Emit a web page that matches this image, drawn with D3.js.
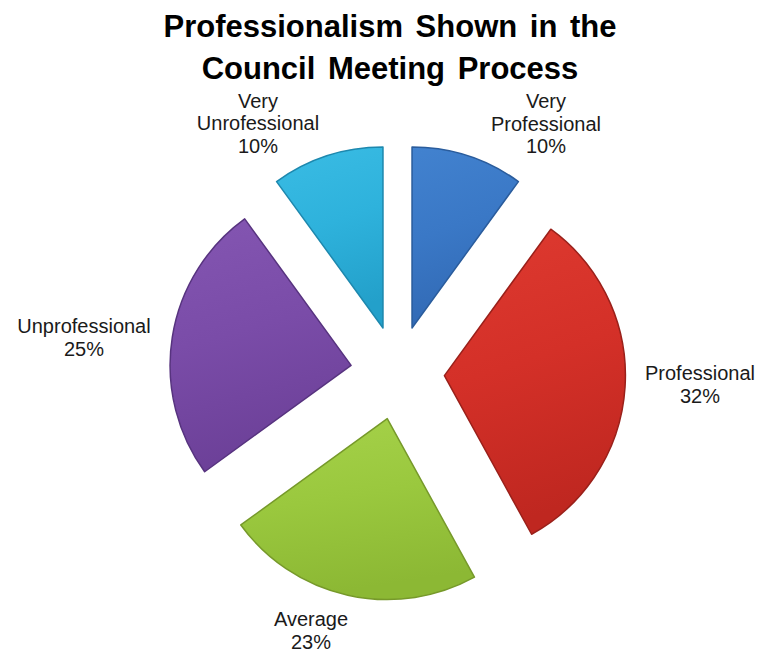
<!DOCTYPE html>
<html>
<head>
<meta charset="utf-8">
<script src="https://cdn.jsdelivr.net/npm/d3@7"></script>
<style>
  html, body { margin: 0; padding: 0; background: #ffffff; }
  svg { display: block; }
</style>
</head>
<body>
<svg id="chart" width="760" height="651"></svg>
<script>
// Survey responses, clockwise from 12 o'clock
const categories = ["Very Professional", "Professional", "Average", "Unprofessional", "Very Unprofessional"];
const labelLines = [["Very", "Professional"], ["Professional"], ["Average"], ["Unprofessional"], ["Very", "Unrofessional"]];
const values = [10, 32, 23, 25, 10];
const titleLines = ["Professionalism Shown in the", "Council Meeting Process"];

// Slice palettes: [light, base, dark, edge]
const palette = [
  ["#4282cf", "#3a78c6", "#3169b4", "#2a5c9c"],
  ["#de3a30", "#d43028", "#bf2720", "#9a201a"],
  ["#a6d24a", "#9ac83e", "#8cb834", "#76992a"],
  ["#8456b2", "#7a4ca8", "#6c4098", "#57337f"],
  ["#3abce4", "#2eb2dc", "#23a0ca", "#1d88ae"]
];

// Label anchor (centre x, first baseline) for each category
const labelPos = [
  [546, 108], [700, 380], [311, 626], [84, 333], [258, 107.5]
];

const svg = d3.select("#chart");
const cx = 397.5, cy = 372.7, R = 181, explode = 47;

// Title
svg.append("g").selectAll("text")
  .data(titleLines)
  .join("text")
  .attr("x", 390)
  .attr("y", (d, i) => 37 + i * 42)
  .attr("text-anchor", "middle")
  .attr("font-family", "Liberation Sans, Arial, sans-serif")
  .attr("font-weight", "bold")
  .attr("font-size", 31)
  .attr("word-spacing", 4)
  .attr("fill", "#000")
  .text(d => d);

const pie = d3.pie().sort(null).value(d => d).startAngle(0).endAngle(2 * Math.PI);
const arcs = pie(values);
const arc = d3.arc().innerRadius(0).outerRadius(R);

const defs = svg.append("defs");
arcs.forEach((a, i) => {
  const g = defs.append("linearGradient")
    .attr("id", "grad" + i)
    .attr("x1", 0).attr("y1", 0).attr("x2", 0.2).attr("y2", 1);
  g.append("stop").attr("offset", "0%").attr("stop-color", palette[i][0]);
  g.append("stop").attr("offset", "50%").attr("stop-color", palette[i][1]);
  g.append("stop").attr("offset", "100%").attr("stop-color", palette[i][2]);
});

const offset = d => {
  const mid = (d.startAngle + d.endAngle) / 2;
  return `translate(${explode * Math.sin(mid)},${-explode * Math.cos(mid)})`;
};

const slices = svg.append("g").attr("transform", `translate(${cx},${cy})`);
slices.selectAll("path")
  .data(arcs)
  .join("path")
  .attr("transform", offset)
  .attr("d", arc)
  .attr("fill", (d, i) => `url(#grad${i})`)
  .attr("stroke", (d, i) => palette[i][3])
  .attr("stroke-width", 1.5)
  .attr("stroke-linejoin", "round");

// Category labels with percentages
const labels = svg.append("g")
  .attr("font-family", "Liberation Sans, Arial, sans-serif")
  .attr("font-size", 20)
  .attr("fill", "#1a1a1a")
  .attr("text-anchor", "middle");

categories.forEach((c, i) => {
  const lines = labelLines[i].concat([values[i] + "%"]);
  const t = labels.append("text")
    .attr("x", labelPos[i][0])
    .attr("y", labelPos[i][1]);
  lines.forEach((ln, j) => {
    t.append("tspan")
      .attr("x", labelPos[i][0])
      .attr("dy", j === 0 ? 0 : 22.5)
      .text(ln);
  });
});
</script>
</body>
</html>
